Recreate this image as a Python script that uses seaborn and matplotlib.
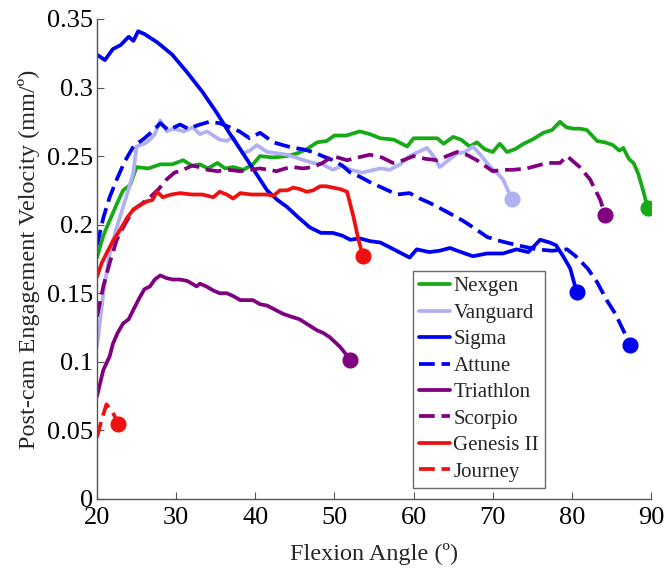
import numpy as np
import pandas as pd
import seaborn as sns
import matplotlib
matplotlib.use("Agg")
import matplotlib.pyplot as plt

# flexion angle (deg) / velocity (mm/deg) per design
nexgen_x = [20, 20.8, 21.6, 22.5, 23.3, 24.2, 25, 26.5, 28, 29.5, 30.9, 32, 33, 34, 35.2, 36.2, 37.2, 38.5,
            39.7, 40.6, 42.3, 44, 45.3, 46.5, 47.8, 49, 50, 51.5, 53.2, 54.5, 55.8, 57.5, 59.2, 60, 61.5, 63,
            63.8, 65, 66, 67.1, 68, 69, 70, 70.9, 71.8, 72.8, 73.9, 75, 76.4, 77.5, 78.5, 79.3, 80.2, 81, 81.9,
            83.2, 84.2, 85.2, 86, 86.5, 87.2, 87.8, 88.4, 89, 89.6]
nexgen_y = [0.176, 0.192, 0.203, 0.215, 0.225, 0.229, 0.242, 0.241, 0.244, 0.244, 0.247, 0.243, 0.244, 0.241,
            0.245, 0.241, 0.242, 0.240, 0.244, 0.250, 0.249, 0.250, 0.252, 0.255, 0.260, 0.261, 0.265, 0.265,
            0.268, 0.266, 0.263, 0.262, 0.257, 0.263, 0.263, 0.263, 0.259, 0.264, 0.262, 0.257, 0.260, 0.255,
            0.253, 0.259, 0.253, 0.255, 0.259, 0.262, 0.267, 0.269, 0.275, 0.271, 0.270, 0.270, 0.269, 0.261,
            0.260, 0.258, 0.254, 0.256, 0.248, 0.245, 0.237, 0.225, 0.212]

vanguard_x = [20, 20.8, 21.6, 22.5, 23.3, 24, 24.6, 25, 26, 26.7, 27.3, 28, 28.8, 29.6, 31, 32.1, 33, 33.9,
              34.7, 35.5, 36.4, 37.2, 38.4, 39.3, 40.2, 41.5, 42.8, 44, 45.6, 47.3, 48.5, 49.8, 51, 52, 53.5,
              55.8, 57, 58.3, 59.5, 60.6, 61.7, 62.5, 63.3, 64.4, 65.5, 66.5, 67.5, 68.6, 69.7, 70.5, 71.3, 72.4]
vanguard_y = [0.111, 0.150, 0.179, 0.198, 0.213, 0.226, 0.238, 0.257, 0.259, 0.262, 0.266, 0.276, 0.268,
              0.270, 0.268, 0.271, 0.266, 0.268, 0.265, 0.262, 0.261, 0.264, 0.252, 0.254, 0.258, 0.253,
              0.252, 0.251, 0.248, 0.245, 0.244, 0.240, 0.243, 0.240, 0.238, 0.241, 0.240, 0.244, 0.250,
              0.253, 0.256, 0.250, 0.242, 0.247, 0.252, 0.253, 0.257, 0.250, 0.242, 0.238, 0.233, 0.219]

sigma_x = [20, 21, 22, 23, 24, 24.6, 25.2, 26, 27.6, 29.5, 31.4, 33.3, 35.2, 36.6, 38.1, 39.8, 41.5, 42.8, 44,
           45.5, 46.9, 48.3, 49.8, 51, 52, 53.2, 54.5, 55.8, 57.5, 59.5, 60.4, 62, 63.3, 64.6, 66, 67.5, 69.3,
           71.3, 73, 74.5, 76, 77.2, 78, 78.9, 79.8, 80.6]
sigma_y = [0.324, 0.320, 0.328, 0.331, 0.337, 0.334, 0.341, 0.339, 0.333, 0.324, 0.311, 0.297, 0.281, 0.268,
           0.255, 0.240, 0.225, 0.218, 0.213, 0.205, 0.198, 0.194, 0.194, 0.192, 0.189, 0.190, 0.188, 0.187,
           0.182, 0.176, 0.182, 0.180, 0.181, 0.183, 0.180, 0.177, 0.179, 0.179, 0.182, 0.180, 0.189, 0.187,
           0.185, 0.177, 0.168, 0.151]

attune_x = [20, 20.8, 21.6, 22.5, 23.5, 24.6, 26, 27, 28, 29, 30.5, 31.5, 33, 34.2, 35.5, 36.8, 38, 39.3, 40.6,
            42.3, 43.5, 44.8, 46, 47.3, 48.5, 49.8, 51, 52, 53.2, 54.5, 56, 57.9, 59.5, 60.8, 62, 64, 66.2, 67.8,
            69.3, 71, 73.1, 75.6, 77.5, 79.4, 80.5, 82, 83.2, 84.4, 85.5, 86.5, 87.4]
attune_y = [0.185, 0.205, 0.220, 0.233, 0.246, 0.257, 0.263, 0.268, 0.274, 0.269, 0.273, 0.270, 0.273, 0.275,
            0.274, 0.271, 0.268, 0.263, 0.267, 0.260, 0.258, 0.256, 0.255, 0.253, 0.250, 0.247, 0.243, 0.238,
            0.235, 0.231, 0.227, 0.222, 0.223, 0.219, 0.216, 0.210, 0.203, 0.197, 0.191, 0.188, 0.185, 0.182,
            0.181, 0.182, 0.177, 0.168, 0.158, 0.145, 0.135, 0.123, 0.112]

triathlon_x = [20, 20.8, 21.6, 22, 22.6, 23.3, 24, 24.6, 25.4, 26, 26.7, 27.3, 28, 28.8, 29.6, 30.5, 31.4, 32.6,
               33, 33.8, 34.7, 35.5, 36.4, 37.2, 38.1, 39, 39.7, 40.6, 41.5, 42.5, 43.5, 44.5, 45.6, 46.7, 47.8,
               48.6, 49.4, 50.7, 51.4, 52]
triathlon_y = [0.075, 0.094, 0.104, 0.113, 0.121, 0.128, 0.131, 0.138, 0.147, 0.153, 0.155, 0.160, 0.163,
               0.161, 0.160, 0.160, 0.159, 0.155, 0.157, 0.155, 0.152, 0.150, 0.150, 0.148, 0.145, 0.145,
               0.145, 0.142, 0.141, 0.138, 0.135, 0.133, 0.131, 0.127, 0.123, 0.121, 0.118, 0.111, 0.106, 0.101]

scorpio_x = [20, 20.8, 21.6, 22.5, 23.5, 24.6, 25.6, 26.7, 27.8, 28.8, 29.8, 30.9, 32, 33, 34, 35.2, 36.6, 38.1,
             39.4, 40.6, 41.7, 42.7, 43.8, 44.8, 46, 47.3, 48.5, 49.8, 51.6, 53, 54.5, 56, 57.4, 58.7, 60, 61.5,
             63, 64.2, 65.5, 66.7, 68, 69, 70, 71.3, 72.6, 74.3, 75.6, 76.9, 78.5, 79.4, 80.2, 81, 82.3, 83.6, 84.2]
scorpio_y = [0.133, 0.155, 0.172, 0.189, 0.200, 0.211, 0.215, 0.220, 0.226, 0.233, 0.238, 0.240, 0.243, 0.242,
             0.240, 0.239, 0.240, 0.239, 0.240, 0.241, 0.240, 0.239, 0.241, 0.242, 0.241, 0.242, 0.245, 0.250,
             0.247, 0.249, 0.251, 0.249, 0.245, 0.247, 0.250, 0.248, 0.247, 0.250, 0.253, 0.251, 0.247, 0.243,
             0.239, 0.240, 0.240, 0.241, 0.243, 0.245, 0.245, 0.250, 0.246, 0.242, 0.233, 0.218, 0.207]

genesis_x = [20, 20.6, 21.2, 22, 22.9, 23.8, 24.6, 25.4, 26.3, 27, 27.6, 28.3, 29.4, 30.5, 32, 33.3, 34.7, 35.5,
             36.4, 37.2, 38.1, 39.5, 41.5, 42.3, 43.1, 44, 44.8, 45.6, 46.5, 47.3, 48.2, 49, 49.8, 50.7, 51.6, 52,
             52.4, 53, 53.6]
genesis_y = [0.162, 0.172, 0.179, 0.188, 0.196, 0.205, 0.211, 0.214, 0.217, 0.218, 0.224, 0.220, 0.222, 0.223,
             0.222, 0.222, 0.220, 0.224, 0.222, 0.219, 0.223, 0.222, 0.222, 0.221, 0.225, 0.225, 0.227, 0.226,
             0.224, 0.225, 0.228, 0.228, 0.227, 0.226, 0.224, 0.215, 0.206, 0.190, 0.177]

journey_x = [20, 20.6, 21.2, 21.6, 22, 22.7]
journey_y = [0.045, 0.058, 0.069, 0.066, 0.063, 0.055]

names = ['Nexgen', 'Vanguard', 'Sigma', 'Attune', 'Triathlon', 'Scorpio', 'Genesis II', 'Journey']
colors = ['#16AA16', '#B0B0F2', '#0000F0', '#0000F0', '#800080', '#800080', '#EE1111', '#EE1111']
dashed = [False, False, False, True, False, True, False, True]
xs = [nexgen_x, vanguard_x, sigma_x, attune_x, triathlon_x, scorpio_x, genesis_x, journey_x]
ys = [nexgen_y, vanguard_y, sigma_y, attune_y, triathlon_y, scorpio_y, genesis_y, journey_y]

sns.set_style("ticks")
plt.rcParams['font.family'] = ['Liberation Serif', 'DejaVu Serif']

fig = plt.figure(figsize=(6.67, 5.74), dpi=100)
ax = fig.add_axes([0.1454, 0.1307, 0.8306, 0.8363])

for name, c, d, x, y in zip(names, colors, dashed, xs, ys):
    df = pd.DataFrame({'angle': x, 'vel': y})
    sns.lineplot(data=df, x='angle', y='vel', ax=ax, color=c, lw=2.7, label=name,
                 estimator=None, sort=False)
    if d:
        ax.lines[-1].set_dashes((4.2, 1.8))
    # end point marker
    sns.scatterplot(x=[x[-1]], y=[y[-1]], ax=ax, color=c, s=115, edgecolor=c, legend=False, zorder=3)

ax.set_xlim(20, 90)
ax.set_ylim(0, 0.35)
ax.set_xticks(range(20, 91, 10))
ax.set_yticks(np.arange(0, 0.351, 0.05))
ax.set_yticklabels(['0', '0.05', '0.1', '0.15', '0.2', '0.25', '0.3', '0.35'])
ax.tick_params(direction='in', length=5, labelsize=19, colors='#555555', labelcolor='black')
ax.tick_params(axis='x', pad=6)
ax.tick_params(axis='y', pad=3)
for s in ['top', 'right']:
    ax.spines[s].set_visible(False)
for s in ['left', 'bottom']:
    ax.spines[s].set_color('#555555')
    ax.spines[s].set_linewidth(1.0)

ax.set_xlabel('Flexion Angle (º)', fontsize=17.5, labelpad=10)
ax.set_ylabel('Post-cam Engagement Velocity (mm/º)', fontsize=17.5, labelpad=5)

leg = ax.legend(loc='lower left', bbox_to_anchor=(0.57, 0.023), borderaxespad=0, fontsize=15,
                frameon=True, fancybox=False, edgecolor='#444444', handlelength=1.5,
                handletextpad=0.15, labelspacing=0.33, borderpad=0.3)
leg.get_frame().set_linewidth(1.0)

fig.savefig('out.png', dpi=100)
